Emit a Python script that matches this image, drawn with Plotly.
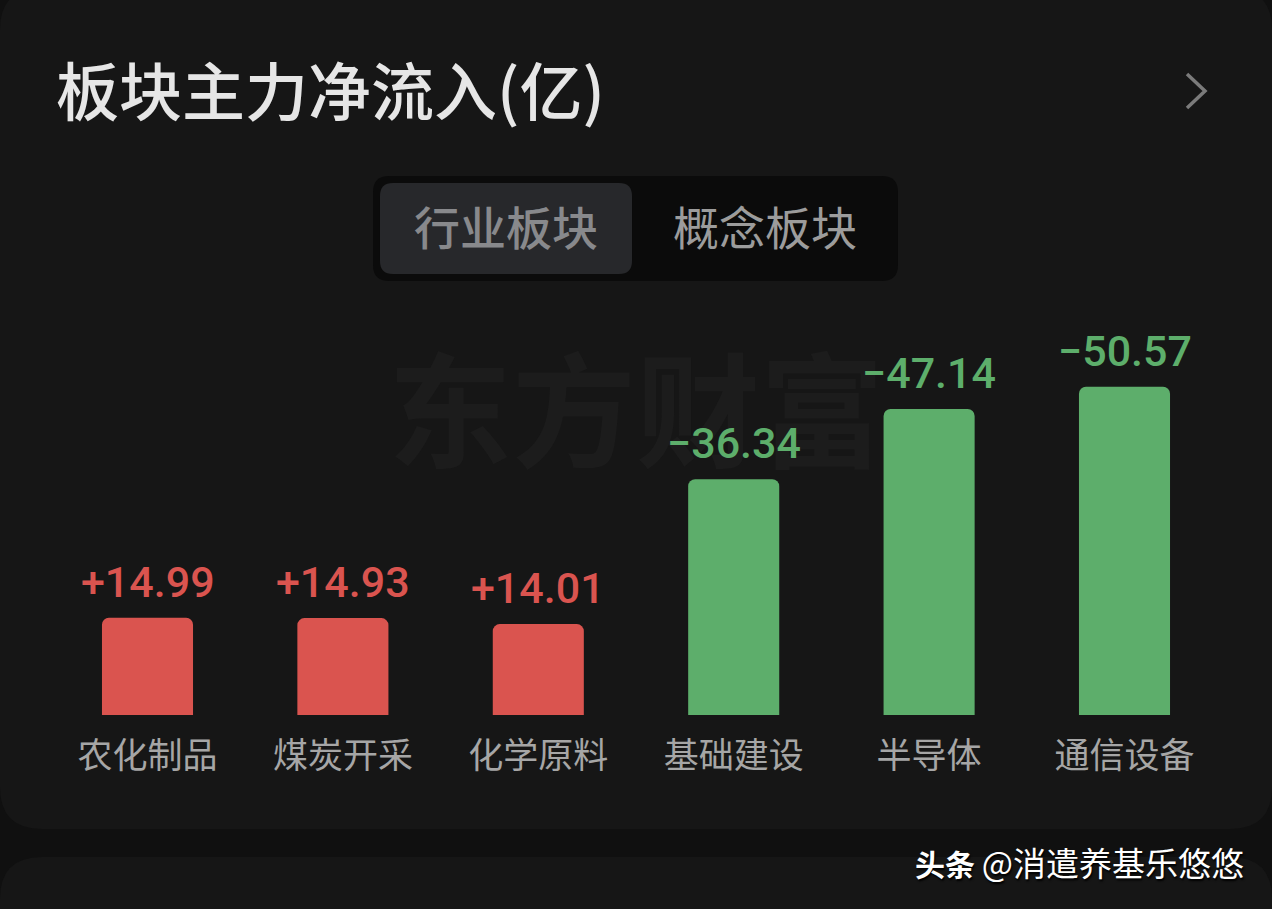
import plotly.graph_objects as go

W = 1272
H = 909
AXIS_Y = 715
PX_PER_UNIT = 6.49

categories = ["农化制品", "煤炭开采", "化学原料", "基础建设", "半导体", "通信设备"]
values = [14.99, 14.93, 14.01, -36.34, -47.14, -50.57]

RED = "#da544f"
GREEN = "#5dae6b"
CJK = "Noto Sans CJK SC"


def px(x):
    return x / W


def py(y):
    return 1 - y / H


def rrect(x0, y0, x1, y1, r):
    # rounded box in paper coords, given in screen pixels
    pts = [
        ("M", (x0 + r, y0)), ("L", (x1 - r, y0)), ("Q", (x1, y0), (x1, y0 + r)),
        ("L", (x1, y1 - r)), ("Q", (x1, y1), (x1 - r, y1)),
        ("L", (x0 + r, y1)), ("Q", (x0, y1), (x0, y1 - r)),
        ("L", (x0, y0 + r)), ("Q", (x0, y0), (x0 + r, y0)),
    ]
    out = ""
    for p in pts:
        out += p[0] + " ".join(f"{px(a):.5f},{py(b):.5f}" for a, b in p[1:]) + " "
    return out + "Z"


def box(x0, y0, x1, y1, r, color):
    return dict(type="path", xref="paper", yref="paper", path=rrect(x0, y0, x1, y1, r),
                fillcolor=color, line_width=0, layer="below")


colors = [RED if v > 0 else GREEN for v in values]

fig = go.Figure()
fig.add_trace(go.Bar(
    x=categories,
    y=[abs(v) for v in values],
    marker=dict(color=colors, line_width=0, cornerradius=7),
    width=0.466,
    hoverinfo="skip",
))

shapes = [
    box(0, -12, W, 829, 42, "#161616"),
    box(0, 857, W, H + 60, 42, "#161616"),
    box(373, 176, 898, 281, 16, "#0b0b0b"),
    box(380, 183, 632, 274, 13, "#27282b"),
    dict(type="path", xref="paper", yref="paper",
         path=f"M{px(1187):.5f},{py(74):.5f} L{px(1205):.5f},{py(91):.5f} L{px(1187):.5f},{py(108):.5f}",
         line=dict(color="#7b7b7b", width=3.5)),
]

annotations = [
    dict(text="东方财富", x=px(636), y=py(404), font=dict(family=CJK, size=124, color="#1c1c1c", weight=700)),
    dict(text="板块主力净流入(亿)", x=px(54), y=py(87), xanchor="left",
         font=dict(family=CJK, size=63, color="#e6e6e6", weight=500)),
    dict(text="行业板块", x=px(506), y=py(225), font=dict(family=CJK, size=46, color="#88898c", weight=500)),
    dict(text="概念板块", x=px(765), y=py(225), font=dict(family=CJK, size=46, color="#9c9c9c", weight=400)),
    dict(text="<b>头条</b> <span style=\"font-size:33px\">@消遣养基乐悠悠</span>", x=px(913), y=py(862), xanchor="left",
         font=dict(family=CJK, size=30, color="#ffffff", shadow="1px 2px 2px #000000")),
]
for a in annotations:
    a.update(xref="paper", yref="paper", showarrow=False, yanchor="middle")
    a.setdefault("xanchor", "center")

for cat, v, c in zip(categories, values, colors):
    annotations.append(dict(
        x=cat, y=abs(v), xref="x", yref="y", yanchor="bottom", yshift=9, showarrow=False,
        text=f"{v:+.2f}".replace("-", "\u2212"),
        font=dict(family="Roboto", size=43, color=c, weight=500),
    ))

fig.update_layout(
    width=W,
    height=H,
    margin=dict(l=0, r=0, t=0, b=0),
    paper_bgcolor="#101010",
    plot_bgcolor="rgba(0,0,0,0)",
    showlegend=False,
    shapes=shapes,
    annotations=annotations,
    xaxis=dict(
        range=[-147.5 / 195.4, (W - 147.5) / 195.4],
        showgrid=False, zeroline=False, showline=False,
        ticks="outside", ticklen=10, tickcolor="rgba(0,0,0,0)",
        tickfont=dict(family=CJK, size=35, color="#a6a6a6"),
    ),
    yaxis=dict(
        domain=[py(AXIS_Y), 1],
        range=[0, AXIS_Y / PX_PER_UNIT],
        visible=False,
    ),
)

fig.write_html("out.html", config=dict(displayModeBar=False),
               post_script="document.body.style.margin='0';document.body.style.background='#101010';")
